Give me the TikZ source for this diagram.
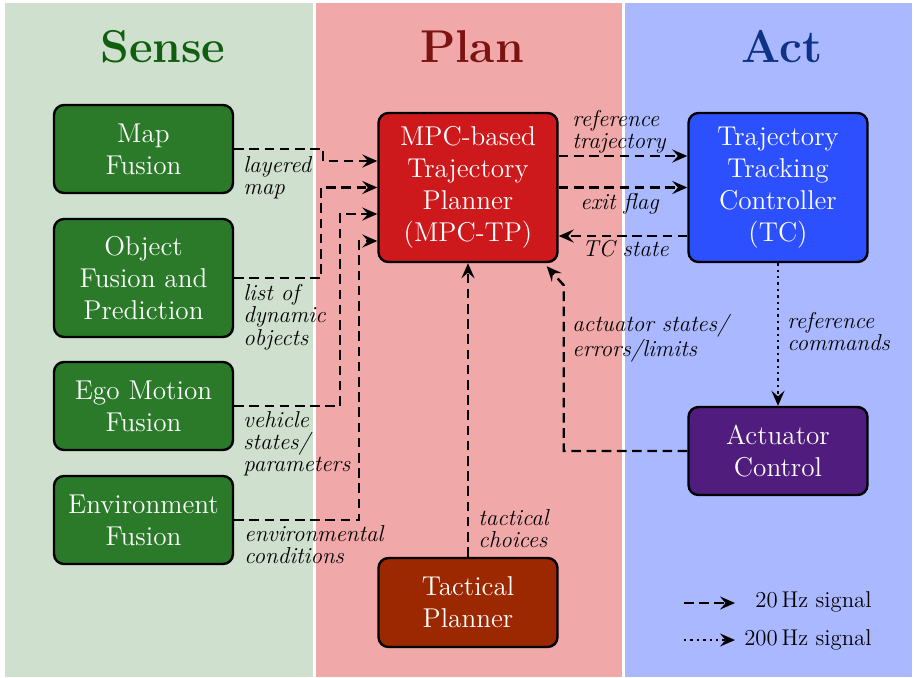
\documentclass[tikz,border=0pt]{standalone}
\usepackage{fontspec}
\usepackage{tikz}
\usetikzlibrary{calc,arrows.meta}

\definecolor{sensebg}{RGB}{207,224,207}
\definecolor{planbg}{RGB}{240,168,168}
\definecolor{actbg}{RGB}{170,185,255}
\definecolor{sensetitle}{RGB}{15,95,15}
\definecolor{plantitle}{RGB}{125,18,18}
\definecolor{acttitle}{RGB}{15,50,135}
\definecolor{sensebox}{RGB}{42,122,42}
\definecolor{mpcbox}{RGB}{205,25,27}
\definecolor{tcbox}{RGB}{45,80,255}
\definecolor{actubox}{RGB}{80,28,125}
\definecolor{tacbox}{RGB}{155,40,0}

\begin{document}
\begin{tikzpicture}[x=0.5pt,y=-0.5pt]

%
% Styles
%
\tikzstyle{block}   = [draw=black,line width=1.2pt,rounded corners=5pt,text=white,align=center,minimum width=89.5pt,inner sep=2pt,font=\fontsize{13.6}{16}\selectfont]
\tikzstyle{title}   = [anchor=base,font=\fontsize{23}{27}\selectfont\bfseries]
\tikzstyle{lbl}     = [anchor=north west,inner sep=0pt,align=left,font=\fontsize{11.5}{11.1}\selectfont\itshape]
\tikzstyle{legend}  = [anchor=base east,inner sep=0pt,font=\fontsize{11.4}{13}\selectfont]
\tikzstyle{sig}     = [-{Stealth[length=7.5pt,width=6.5pt,inset=2.8pt]},line width=1.2pt,dash pattern=on 4.8pt off 2.8pt]
\tikzstyle{fastsig} = [-{Stealth[length=7.5pt,width=6.5pt,inset=2.8pt]},line width=1.2pt,dotted]

\useasboundingbox (0,0) rectangle (915,677);

% columns
\fill[sensebg] (5,3)   rectangle (313,677);
\fill[planbg]  (316,3) rectangle (622,677);
\fill[actbg]   (625,3) rectangle (912,677);

\node[title,text=sensetitle] (sense) at (163,62) {Sense};
\node[title,text=plantitle]  (plan)  at (472,62) {Plan};
\node[title,text=acttitle]   (act)   at (782,62) {Act};

% blocks
\node[block,fill=sensebox,minimum height=44pt] (map) at (143.5,149) {Map\\Fusion};
\node[block,fill=sensebox,minimum height=59pt] (obj) at (143.5,278) {Object\\Fusion and\\Prediction};
\node[block,fill=sensebox,minimum height=44pt] (ego) at (143.5,406) {Ego Motion\\Fusion};
\node[block,fill=sensebox,minimum height=44pt] (env) at (143.5,520) {Environment\\Fusion};

\node[block,fill=mpcbox,minimum height=74.5pt] (mpc) at (468,187.5) {MPC-based\\Trajectory\\Planner\\(MPC-TP)};
\node[block,fill=tacbox,minimum height=44.5pt] (tac) at (468,602.5) {Tactical\\Planner};

\node[block,fill=tcbox,minimum height=74.5pt]  (tc)   at (778,187.5) {Trajectory\\Tracking\\Controller\\(TC)};
\node[block,fill=actubox,minimum height=44pt]  (actu) at (778,451)   {Actuator\\Control};

% signals
\draw[sig] (map.east) -- ++(89,0)  |- ($(mpc.west)+(0,-26.5)$);
\draw[sig] (obj.east) -- ++(87,0)  |- (mpc.west);
\draw[sig] (ego.east) -- ++(106,0) |- ($(mpc.west)+(0,26.5)$);
\draw[sig] (env.east) -- ++(125,0) |- ($(mpc.west)+(0,53.5)$);

\draw[sig] ($(mpc.east)+(0,-31.5)$) -- ($(tc.west)+(0,-31.5)$);
\draw[sig] (mpc.east) -- (tc.west);
\draw[sig] ($(tc.west)+(0,48.5)$) -- ($(mpc.east)+(0,48.5)$);

\draw[fastsig] (tc.south) -- (actu.north);
\draw[sig] (actu.west) -| ($(mpc.south east)+(5,22)$) -- ($(mpc.south east)+(-12,3)$);
\draw[sig] (tac.north) -- (mpc.south);

% labels
\node[lbl] (lmap) at (243,156) {layered\\map};
\node[lbl] (lobj) at (243,284) {list of\\dynamic\\objects};
\node[lbl] (lego) at (243,411) {vehicle\\states/\\parameters};
\node[lbl] (lenv) at (244,525) {environmental\\conditions};
\node[lbl] (lref) at (572,110) {reference\\trajectory};
\node[lbl] (lexit) at (580,193) {exit flag};
\node[lbl] (ltc)  at (582,240) {TC state};
\node[lbl] (lcmd) at (787,312) {reference\\commands};
\node[lbl] (lactu) at (572,313.5) {actuator states/\\errors/limits};
\node[lbl] (ltac) at (478,509) {tactical\\choices};

% legend
\coordinate (lega) at (684,603);
\coordinate (legb) at (735,603);
\coordinate (legc) at (684,640);
\coordinate (legd) at (735,640);
\draw[sig] (lega) -- (legb);
\draw[fastsig] (legc) -- (legd);
\node[legend] (leg20)  at (872,607) {20\,Hz signal};
\node[legend] (leg200) at (872,645) {200\,Hz signal};

\end{tikzpicture}
\end{document}
